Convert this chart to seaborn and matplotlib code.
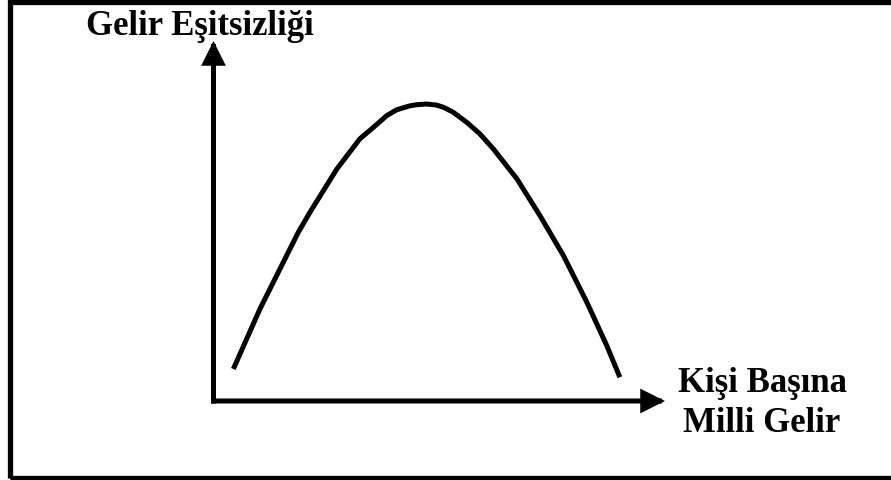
import matplotlib
matplotlib.use("Agg")
import matplotlib.pyplot as plt
import matplotlib.patches as mpatches
import pandas as pd
import seaborn as sns

# Kuznets curve, values (0-100 scale on both axes)
income = [4.4, 10.3, 16.2, 18.8, 21.4, 27.3, 32.4, 35.4, 38.4, 40.6, 43.5,
          45.0, 47.2, 49.4, 50.9, 53.1, 56.1, 59.0, 62.0, 67.2, 72.3,
          77.5, 82.7, 87.1, 90.0]
inequality = [8.9, 25.6, 40.4, 46.9, 52.5, 64.4, 72.8, 76.0, 79.3, 80.9, 82.0,
              82.3, 82.5, 82.2, 81.6, 80.2, 77.4, 74.2, 70.0, 61.7, 51.5,
              40.4, 27.4, 15.4, 6.6]

y_title = "Gelir Eşitsizliği"
x_title = ["Kişi Başına", "Milli Gelir"]

W, H = 891, 481

sns.set_theme(style="white")
plt.rcParams["font.family"] = ["Liberation Serif", "DejaVu Serif"]

fig = plt.figure(figsize=(W / 100, H / 100), dpi=100)
fig.patch.set_facecolor("white")

# axes box in pixels: left 213.5, right 665, bottom 402, top 42
ax = fig.add_axes([213.5 / W, (H - 402) / H, (665 - 213.5) / W, (402 - 42) / H])
ax.set_xlim(0, 100)
ax.set_ylim(0, 100)
ax.set_facecolor("none")

df = pd.DataFrame({"income": income, "inequality": inequality})
sns.lineplot(data=df, x="income", y="inequality", sort=False, color="black",
             linewidth=3.6, ax=ax, solid_capstyle="butt", solid_joinstyle="round")

for s in ax.spines.values():
    s.set_visible(False)
ax.set_xticks([])
ax.set_yticks([])
ax.set_xlabel("")
ax.set_ylabel("")

arrow = dict(arrowstyle="-|>,head_length=0.6,head_width=0.3", color="black",
             lw=3.6, mutation_scale=20, shrinkA=0, shrinkB=0,
             joinstyle="miter", capstyle="projecting")
ax.annotate("", xy=(1, 0), xytext=(0, 0), xycoords="axes fraction",
            textcoords="axes fraction", arrowprops=arrow)
ax.annotate("", xy=(0, 1), xytext=(0, 0), xycoords="axes fraction",
            textcoords="axes fraction", arrowprops=arrow)

# labels
fig.text(86 / W, 1 - 35 / H, y_title, fontsize=25, fontweight="bold",
         ha="left", va="baseline", color="black")
fig.text(763 / W, 1 - 392 / H, x_title[0], fontsize=25, fontweight="bold",
         ha="center", va="baseline", color="black")
fig.text(762 / W, 1 - 432 / H, x_title[1], fontsize=25, fontweight="bold",
         ha="center", va="baseline", color="black")

# outer frame (right edge cut off in the original)
frame = mpatches.Rectangle((10 / W, 2.5 / H), 1.1, (H - 5) / H,
                           transform=fig.transFigure, fill=False,
                           edgecolor="black", linewidth=3.8, clip_on=False)
fig.add_artist(frame)

fig.savefig("out.png", dpi=100, facecolor="white")
